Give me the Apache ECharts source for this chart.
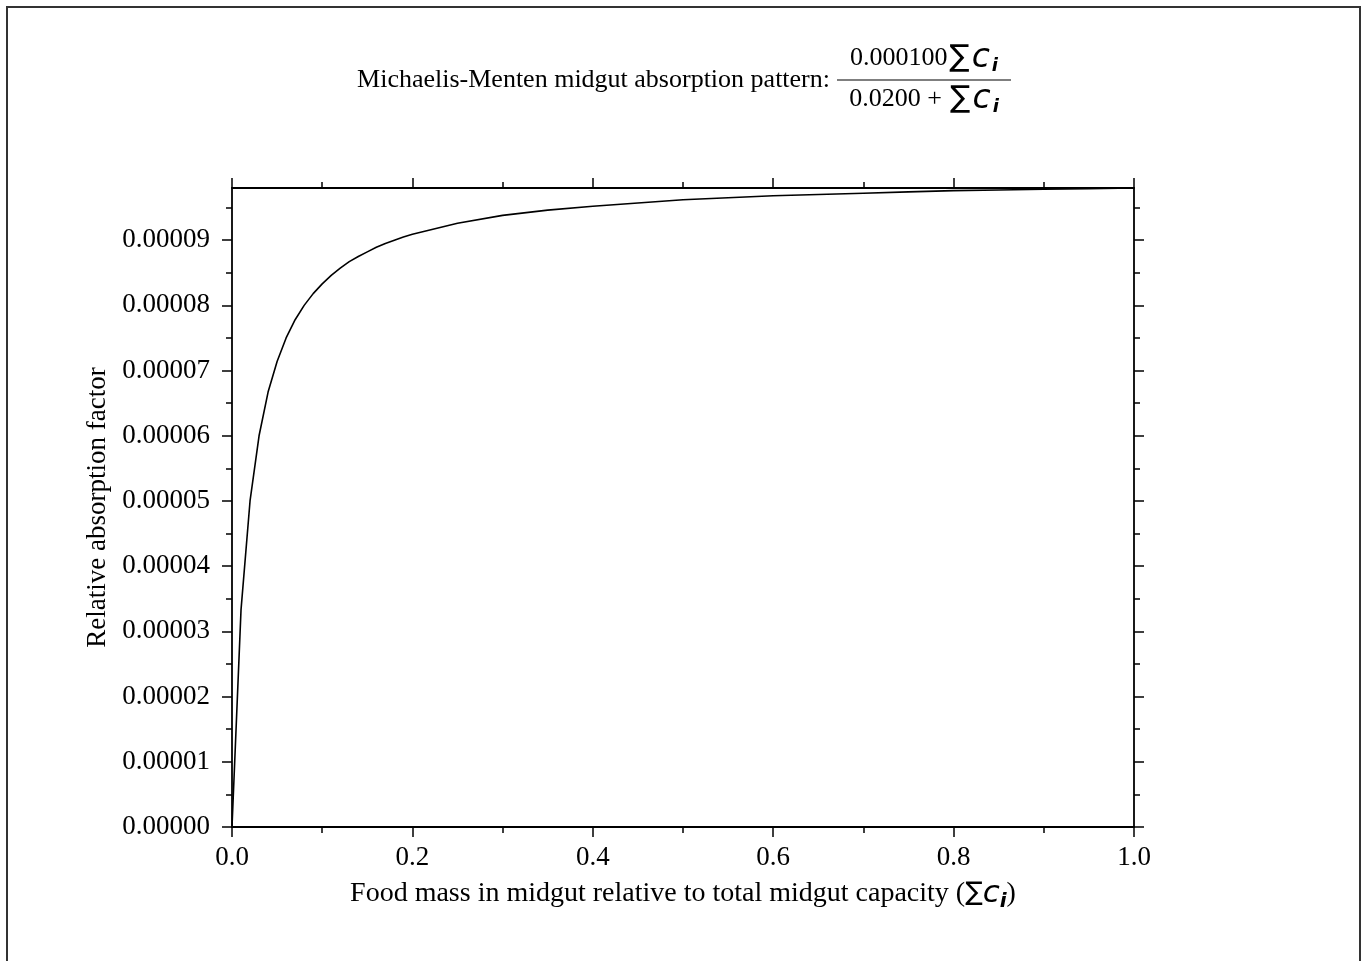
<!DOCTYPE html>
<html>
<head>
<meta charset="utf-8">
<script src="https://cdn.jsdelivr.net/npm/echarts@6/dist/echarts.min.js"></script>
<style>
  html, body { margin: 0; padding: 0; background: #fff; }
  #chart { width: 1367px; height: 961px; }
</style>
</head>
<body>
<div id="chart"></div>
<script>
var myChart = echarts.init(document.getElementById('chart'));

// food mass (sum c_i) and absorption factor
let xData = [0, 0.01, 0.02, 0.03, 0.04, 0.05, 0.06, 0.07, 0.08, 0.09, 0.10,
             0.11, 0.12, 0.13, 0.14, 0.15, 0.16, 0.17, 0.18, 0.19, 0.20,
             0.25, 0.30, 0.35, 0.40, 0.45, 0.50, 0.55, 0.60, 0.65, 0.70,
             0.75, 0.80, 0.85, 0.90, 0.95, 1.00];
let yData = [0, 0.0000333, 0.0000500, 0.0000600, 0.0000667, 0.0000714, 0.0000750,
             0.0000778, 0.0000800, 0.0000818, 0.0000833, 0.0000846, 0.0000857,
             0.0000867, 0.0000875, 0.0000882, 0.0000889, 0.0000895, 0.0000900,
             0.0000905, 0.0000909, 0.0000926, 0.0000938, 0.0000946, 0.0000952,
             0.0000957, 0.0000962, 0.0000965, 0.0000968, 0.0000970, 0.0000972,
             0.0000974, 0.0000976, 0.0000977, 0.0000978, 0.0000979, 0.0000980];
let yTicks = [0, 0.00001, 0.00002, 0.00003, 0.00004, 0.00005, 0.00006, 0.00007, 0.00008, 0.00009];
let yTop = 0.0000980;

let serif = 'Liberation Serif';
function mathRich(size, big) {
  return {
    n: { fontFamily: serif, fontSize: size, color: '#000' },
    s: { fontFamily: 'DejaVu Sans', fontSize: size + (big ? 4 : -2), color: '#000',
         padding: [0, big ? 2 : 0, 0, big ? 2 : 0] },
    c: { fontFamily: 'DejaVu Sans', fontStyle: 'italic', fontSize: size + (big ? 7 : 3), color: '#000',
         padding: [0, big ? 2 : 0, 0, 0] },
    i: { fontFamily: 'DejaVu Sans', fontStyle: 'italic', fontWeight: 'bold', fontSize: Math.round(size * 0.7),
         color: '#000', padding: [Math.round(size * 0.6), 0, 0, 0] }
  };
}

let pts = xData.map(function (x, k) { return [x, yData[k]]; });

let axisLineStyle = { color: '#000', width: 1.8 };
let tickStyle = { color: '#000', width: 1.5 };

var option = {
  backgroundColor: '#fff',
  animation: false,
  grid: { left: 232, right: 233, top: 188, bottom: 134 },
  graphic: [
    { type: 'rect', shape: { x: 7, y: 7, width: 1353, height: 970 },
      style: { fill: null, stroke: '#333', lineWidth: 2 } },
    { type: 'text', x: 830, y: 80,
      style: { text: 'Michaelis-Menten midgut absorption pattern:', font: '26px "Liberation Serif"',
               fill: '#000', align: 'right', verticalAlign: 'middle' } },
    { type: 'text', x: 924, y: 58,
      style: { text: '{n|0.000100}{s|∑}{c|c}{i|i}', rich: mathRich(26, true), align: 'center', verticalAlign: 'middle' } },
    { type: 'line', shape: { x1: 837, y1: 80, x2: 1011, y2: 80 },
      style: { stroke: '#000', lineWidth: 1.2 } },
    { type: 'text', x: 924, y: 99,
      style: { text: '{n|0.0200 + }{s|∑}{c|c}{i|i}', rich: mathRich(26, true), align: 'center', verticalAlign: 'middle' } }
  ],
  xAxis: [{
    type: 'value', min: 0, max: 1, interval: 0.2,
    name: '{n|Food mass in midgut relative to total midgut capacity (}{s|∑}{c|c}{i|i}{n|)}',
    nameLocation: 'middle', nameGap: 48,
    nameTextStyle: { rich: mathRich(28, false) },
    axisLine: { onZero: false, lineStyle: axisLineStyle },
    axisTick: { inside: false, length: 10, lineStyle: tickStyle },
    minorTick: { show: true, splitNumber: 2, length: 6, lineStyle: tickStyle },
    splitLine: { show: false },
    axisLabel: { fontFamily: serif, fontSize: 27, color: '#000', margin: 17,
                 formatter: function (v) { return v.toFixed(1); } }
  }, {
    type: 'value', min: 0, max: 1, interval: 0.2, position: 'top',
    axisLine: { onZero: false, lineStyle: axisLineStyle },
    axisTick: { inside: false, length: 10, lineStyle: tickStyle },
    minorTick: { show: true, splitNumber: 2, length: 6, lineStyle: tickStyle },
    splitLine: { show: false },
    axisLabel: { show: false }
  }],
  yAxis: [{
    type: 'value', min: 0, max: yTop, interval: 0.00001,
    name: 'Relative absorption factor',
    nameLocation: 'middle', nameGap: 118,
    nameTextStyle: { fontFamily: serif, fontSize: 27, color: '#000' },
    axisLine: { show: true, onZero: false, lineStyle: axisLineStyle },
    axisTick: { show: true, inside: false, length: 10, customValues: yTicks, lineStyle: tickStyle },
    minorTick: { show: true, splitNumber: 2, length: 6, lineStyle: tickStyle },
    splitLine: { show: false },
    axisLabel: { fontFamily: serif, fontSize: 27, color: '#000', margin: 22, customValues: yTicks,
                 formatter: function (v) { return v.toFixed(5); } }
  }, {
    type: 'value', min: 0, max: yTop, interval: 0.00001, position: 'right',
    axisLine: { show: true, onZero: false, lineStyle: axisLineStyle },
    axisTick: { show: true, inside: false, length: 10, customValues: yTicks, lineStyle: tickStyle },
    minorTick: { show: true, splitNumber: 2, length: 6, lineStyle: tickStyle },
    splitLine: { show: false },
    axisLabel: { show: false }
  }],
  series: [{
    type: 'line',
    data: pts,
    showSymbol: false,
    lineStyle: { color: '#000', width: 1.6 }
  }]
};
myChart.setOption(option);
</script>
</body>
</html>
